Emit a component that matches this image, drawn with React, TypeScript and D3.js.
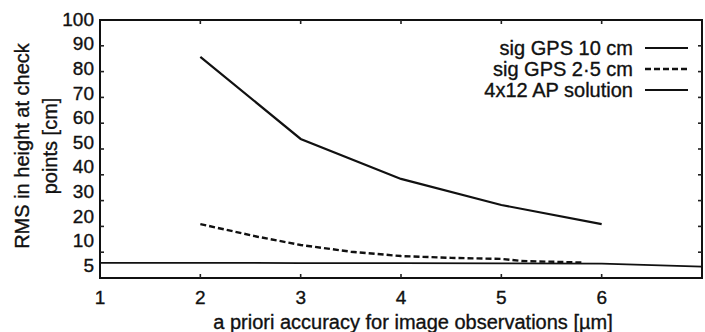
import * as d3 from "d3";

const xTicks = [1, 2, 3, 4, 5, 6];
const yTicks = [10, 20, 30, 40, 50, 60, 70, 80, 90];
const yLabels = ["100", "90", "80", "70", "60", "50", "40", "30", "20", "10", "5"];

const gps10x = [2, 3, 4, 5, 6];
const gps10y = [85.7, 53.9, 38.4, 28.3, 20.9];

const gps25x = [2, 2.57, 3, 3.5, 4, 4.5, 5, 5.2, 5.8];
const gps25y = [20.9, 16.0, 12.8, 10.2, 8.5, 7.8, 7.4, 6.6, 6.0];

const apx = [1, 2, 3, 4, 5, 6, 7];
const apy = [5.9, 5.9, 5.8, 5.8, 5.7, 5.6, 4.4];

const legendLabels = ["sig GPS 10 cm", "sig GPS 2·5 cm", "4x12 AP solution"];

const W = 705;
const H = 332;
const font = "'Liberation Sans', Arial, Helvetica, sans-serif";

export default function App() {
  const x = d3.scaleLinear().domain([1, 7]).range([100, 702]);
  const y = d3.scaleLinear().domain([0, 100]).range([278, 20]);
  // the printed labels are evenly spaced, including the odd "5" at the bottom
  const yl = d3.scalePoint().domain(yLabels).range([19, 265]);

  const line = d3
    .line<[number, number]>()
    .x((d) => x(d[0]))
    .y((d) => y(d[1]));

  const zip = (xs: number[], ys: number[]) =>
    xs.map((v, i) => [v, ys[i]] as [number, number]);

  const series = [
    { pts: zip(gps10x, gps10y), dash: null, width: 2.2 },
    { pts: zip(gps25x, gps25y), dash: "6,3", width: 2.4 },
    { pts: zip(apx, apy), dash: null, width: 1.8 },
  ];

  const [x0, x1] = x.range();
  const [y0, y1] = y.range();

  // scanned print looks a bit heavier than plain Arial
  const ink = { fill: "#111", stroke: "#111", strokeWidth: 0.35 };

  return (
    <svg
      width={W}
      height={H}
      style={{ position: "absolute", left: 0, top: 0, background: "#fff" }}
      fontFamily={font}
    >
      {/* frame */}
      <rect
        x={x0}
        y={y1}
        width={x1 - x0}
        height={y0 - y1}
        fill="none"
        stroke="#111"
        strokeWidth={2}
      />
      {/* inward ticks */}
      {yTicks.map((t) => (
        <g key={"yt" + t} stroke="#222" strokeWidth={1.6}>
          <line x1={x0} x2={x0 + 4} y1={y(t)} y2={y(t)} />
          <line x1={x1} x2={x1 - 4} y1={y(t)} y2={y(t)} />
        </g>
      ))}
      {xTicks.slice(1).map((t) => (
        <g key={"xt" + t} stroke="#222" strokeWidth={1.6}>
          <line x1={x(t)} x2={x(t)} y1={y0} y2={y0 - 4} />
          <line x1={x(t)} x2={x(t)} y1={y1} y2={y1 + 4} />
        </g>
      ))}
      {/* y labels */}
      {yLabels.map((l) => (
        <text
          key={l}
          x={x0 - 6}
          y={yl(l)}
          dy="0.36em"
          textAnchor="end"
          fontSize={19}
          {...ink}
        >
          {l}
        </text>
      ))}
      {/* x labels */}
      {xTicks.map((t) => (
        <text
          key={"xl" + t}
          x={x(t)}
          y={304}
          textAnchor="middle"
          fontSize={19}
          {...ink}
        >
          {t}
        </text>
      ))}
      <text x={413} y={329} textAnchor="middle" fontSize={20} {...ink}>
        a priori accuracy for image observations [µm]
      </text>
      <g transform="translate(29,146) rotate(-90)">
        <text x={0} y={0} textAnchor="middle" fontSize={20} {...ink}>
          RMS in height at check
        </text>
        <text x={0} y={28} textAnchor="middle" fontSize={20} {...ink}>
          points [cm]
        </text>
      </g>
      {/* series */}
      {series.map((s, i) => (
        <path
          key={"s" + i}
          d={line(s.pts) ?? ""}
          fill="none"
          stroke="#111"
          strokeWidth={s.width}
          strokeDasharray={s.dash ?? undefined}
        />
      ))}
      {/* legend */}
      {legendLabels.map((l, i) => (
        <g key={l} transform={`translate(0,${48 + i * 21})`}>
          <text x={633} y={0} dy="0.35em" textAnchor="end" fontSize={20} {...ink}>
            {l}
          </text>
          <line
            x1={645}
            x2={688}
            y1={0}
            y2={0}
            stroke="#111"
            strokeWidth={series[i].width}
            strokeDasharray={series[i].dash ?? undefined}
          />
        </g>
      ))}
    </svg>
  );
}
